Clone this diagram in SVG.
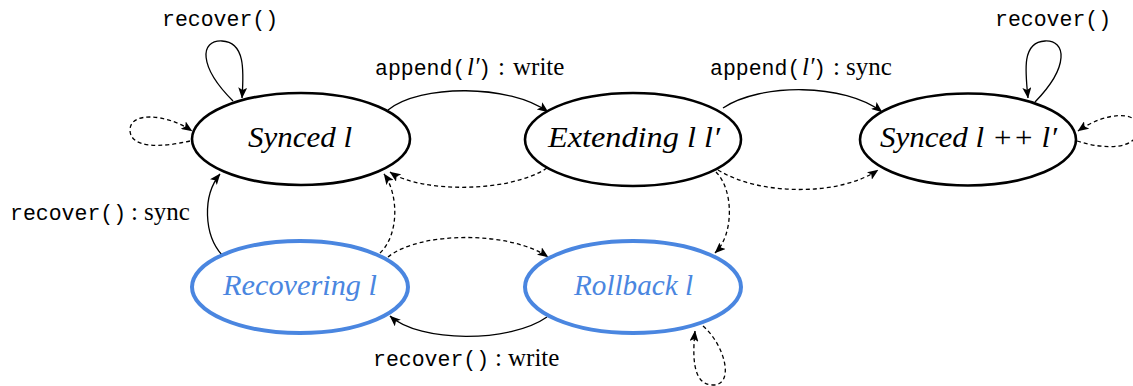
<svg xmlns="http://www.w3.org/2000/svg" width="1133" height="386" viewBox="0 0 1133 386">
<style>
  .node { fill: #ffffff; stroke: #000000; stroke-width: 2.6; }
  .blue { fill: #ffffff; stroke: #4a86e0; stroke-width: 4; }
  .nlabel { font-family: "Liberation Serif", serif; font-style: italic; font-size: 30px; fill: #000000; }
  .nlabel.b { fill: #4a86e0; }
  .edge { fill: none; stroke: #000000; stroke-width: 1.3; marker-end: url(#arr); }
  .dash { stroke-dasharray: 4 3; }
  .mono { font-family: "Liberation Mono", monospace; font-size: 21.5px; fill: #000000; }
  .ser { font-family: "Liberation Serif", serif; font-size: 25px; fill: #000000; }
  .it { font-style: italic; }
</style>
<defs>
  <marker id="arr" markerUnits="userSpaceOnUse" markerWidth="11" markerHeight="9" refX="10.5" refY="4.5" orient="auto">
    <path d="M0,0 L11,4.5 L0,9 L2.5,4.5 z" fill="#000000"/>
  </marker>
</defs>
<rect width="1133" height="386" fill="#ffffff"/>

<g id="connectors">
  <path class="edge" d="M233,101 C 198,66 200,40 222,41 C 245,42 244,70 242,98"/>
  <path class="edge dash" d="M190,141 C 160,148 130,148 130,130 C 130,112 165,113 192,131"/>
  <path class="edge" d="M388,110 C 420,84 510,84 548,112"/>
  <path class="edge dash" d="M547,168 C 510,193 420,193 390,172"/>
  <path class="edge" d="M723,108 C 760,83 845,83 882,112"/>
  <path class="edge dash" d="M718,170 C 760,196 840,196 878,170"/>
  <path class="edge" d="M1035,102 C 1070,66 1066,40 1045,41 C 1022,42 1025,70 1028,98"/>
  <path class="edge dash" d="M1077,141 C 1105,150 1138,150 1138,128 C 1138,110 1105,112 1078,131"/>
  <path class="edge" d="M222,255 C 204,235 202,196 220,174"/>
  <path class="edge dash" d="M380,253 C 399,235 399,195 384,174"/>
  <path class="edge dash" d="M388,257 C 420,231 510,231 548,257"/>
  <path class="edge" d="M547,317 C 510,343 420,343 390,316"/>
  <path class="edge dash" d="M716,172 C 734,190 734,235 715,253"/>
  <path class="edge dash" d="M703,326 C 725,345 735,385 713,385 C 691,385 693,352 695,331"/>
</g>

<g id="edge-labels">
  <text class="mono" x="162" y="26">recover()</text>
  <text class="mono" x="995" y="26">recover()</text>
  <text y="75"><tspan class="mono" x="375">append(</tspan><tspan class="ser it" x="467">l′</tspan><tspan class="mono" x="478">)</tspan><tspan class="ser" x="498">:</tspan><tspan class="ser" x="513">write</tspan></text>
  <text y="75"><tspan class="mono" x="710">append(</tspan><tspan class="ser it" x="802">l′</tspan><tspan class="mono" x="813">)</tspan><tspan class="ser" x="833">:</tspan><tspan class="ser" x="846">sync</tspan></text>
  <text y="220"><tspan class="mono" x="10">recover()</tspan><tspan class="ser" x="131">:</tspan><tspan class="ser" x="144">sync</tspan></text>
  <text y="366"><tspan class="mono" x="373">recover()</tspan><tspan class="ser" x="495">:</tspan><tspan class="ser" x="508">write</tspan></text>
</g>

<g id="synced-l">
  <ellipse class="node" cx="301" cy="139" rx="109" ry="46"/>
  <text class="nlabel" x="248" y="147" textLength="104" lengthAdjust="spacingAndGlyphs">Synced l</text>
</g>
<g id="extending">
  <ellipse class="node" cx="633" cy="139.5" rx="108" ry="46.5"/>
  <text class="nlabel" x="548" y="147" textLength="172" lengthAdjust="spacingAndGlyphs">Extending l l′</text>
</g>
<g id="synced-l-l2">
  <ellipse class="node" cx="968" cy="139.5" rx="108" ry="46"/>
  <text class="nlabel" x="880" y="147" textLength="177" lengthAdjust="spacingAndGlyphs">Synced l ++ l′</text>
</g>
<g id="recovering">
  <ellipse class="blue" cx="300" cy="287" rx="108" ry="46"/>
  <text class="nlabel b" x="223" y="295" textLength="154" lengthAdjust="spacingAndGlyphs">Recovering l</text>
</g>
<g id="rollback">
  <ellipse class="blue" cx="633" cy="287" rx="108" ry="46"/>
  <text class="nlabel b" x="574" y="295" textLength="119" lengthAdjust="spacingAndGlyphs">Rollback l</text>
</g>
</svg>
